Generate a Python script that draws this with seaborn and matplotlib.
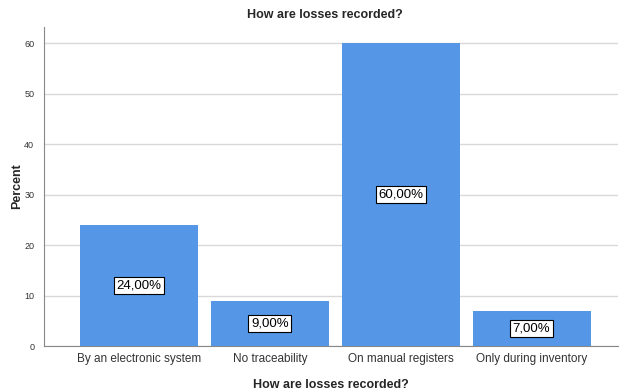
import matplotlib
matplotlib.use("Agg")
import matplotlib.pyplot as plt
import seaborn as sns
import pandas as pd

categories = ["By an electronic system", "No traceability", "On manual registers", "Only during inventory"]
percents = [24.0, 9.0, 60.0, 7.0]
yticks = [0, 10, 20, 30, 40, 50, 60]

sns.set_theme(style="white")
plt.rcParams['font.family'] = ['Liberation Sans', 'DejaVu Sans']

df = pd.DataFrame({"cat": categories, "pct": percents})

fig = plt.figure(figsize=(6.2, 3.92), dpi=100)
ax = fig.add_axes([44/620, 1-346/392, 574/620, (346-27)/392])
sns.barplot(data=df, x="cat", y="pct", color="#5596e6", saturation=1, width=0.9,
            linewidth=0, ax=ax, zorder=3)

ax.set_ylim(0, 63.2)
ax.set_xlim(-0.725, 3.66)
ax.set_yticks(yticks)
ax.set_yticklabels([str(t) for t in yticks], fontsize=6.5, color="#333333")
ax.tick_params(axis='x', labelsize=8.5, colors="#333333", length=0, pad=5)
ax.tick_params(axis='y', length=0, pad=7)
ax.grid(axis='y', color="#d9d9d9", linewidth=1, zorder=0)
for s in ["top", "right"]:
    ax.spines[s].set_visible(False)
for s in ["left", "bottom"]:
    ax.spines[s].set_color("#888888")
    ax.spines[s].set_linewidth(0.8)

for i, v in enumerate(percents):
    ax.text(i, v/2, f"{v:.2f}".replace(".", ",") + "%", ha="center", va="center",
            fontsize=9.5, color="black", zorder=5,
            bbox=dict(boxstyle="square,pad=0.2", fc="white", ec="black", lw=0.8))

ax.set_xlabel("How are losses recorded?", fontsize=9, fontweight="bold", labelpad=10)
ax.set_ylabel("Percent", fontsize=9, fontweight="bold")
ax.yaxis.set_label_coords(-0.037, 0.5)
fig.text(325/620, 1-15/392, "How are losses recorded?", ha="center", va="center", fontsize=9, fontweight="bold")

fig.savefig("out.png", dpi=100)
